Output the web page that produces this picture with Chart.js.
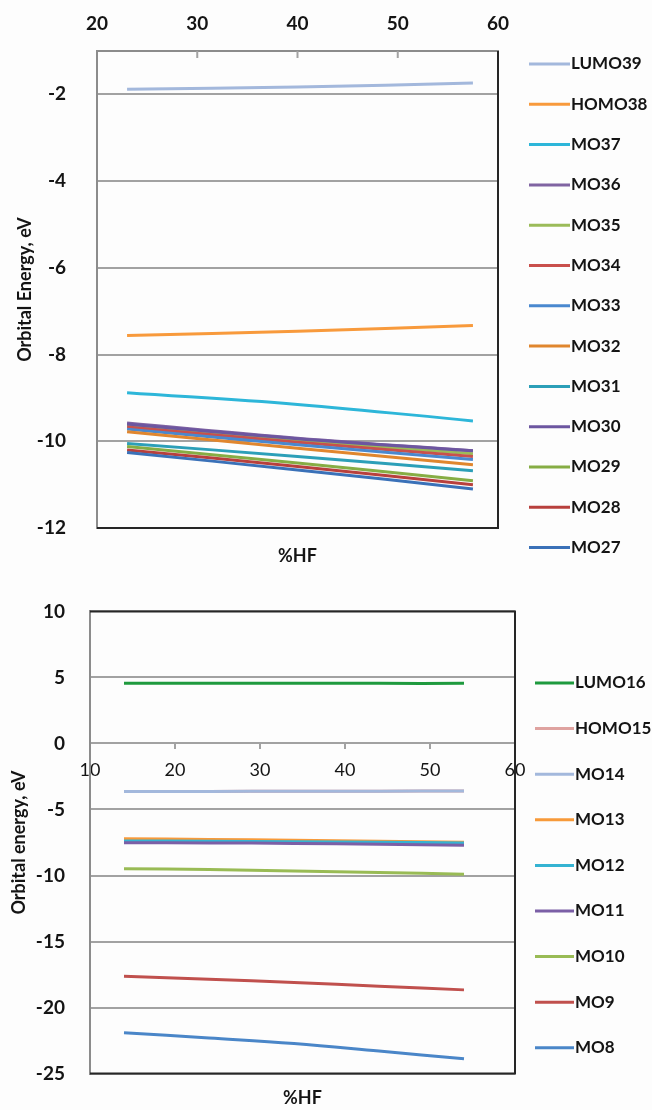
<!DOCTYPE html>
<html>
<head>
<meta charset="utf-8">
<title>Orbital energies vs %HF</title>
<script src="https://cdn.jsdelivr.net/npm/chart.js@4.4.1/dist/chart.umd.min.js"></script>
<style>
    html, body { margin: 0; padding: 0; background: #fdfdfd; }
    canvas { display: block; }
</style>
</head>
<body>
<canvas id="upper-chart" width="652" height="575"></canvas>
<canvas id="lower-chart" width="652" height="535"></canvas>
<script>
// Upper panel: orbitals 27-39 vs %HF
const upperHF = [23, 40, 57.5];
const upperLabels = ['LUMO39', 'HOMO38', 'MO37', 'MO36', 'MO35', 'MO34', 'MO33', 'MO32', 'MO31', 'MO30', 'MO29', 'MO28', 'MO27'];
const lumo39 = [-1.88, -1.83, -1.74];
const homo38 = [-7.56, -7.46, -7.33];
const mo37 = [-8.88, -9.15, -9.53];
const mo36 = [-9.58, -9.93, -10.22];
const mo35 = [-9.63, -9.98, -10.29];
const mo34 = [-9.67, -10.02, -10.35];
const mo33 = [-9.72, -10.08, -10.42];
const mo32 = [-9.78, -10.16, -10.54];
const mo31 = [-10.05, -10.35, -10.68];
const mo30 = [-9.60, -9.94, -10.22];
const mo29 = [-10.12, -10.50, -10.91];
const mo28 = [-10.20, -10.58, -11.00];
const mo27 = [-10.26, -10.66, -11.10];
const upperSeries = [lumo39, homo38, mo37, mo36, mo35, mo34, mo33, mo32, mo31, mo30, mo29, mo28, mo27];
const upperColors = ['#a3b8dc', '#f89a3c', '#2db6d9', '#8064a2', '#9bbb59', '#c9504c', '#4a88cf',
                     '#e0862e', '#2c9fb8', '#6c56a0', '#86ad44', '#b8403d', '#3a71b8'];
const upperXTicks = [20, 30, 40, 50, 60];
const upperYTicks = [-12, -10, -8, -6, -4, -2];

// Lower panel: orbitals 8-16 vs %HF
const lowerHF = [14, 24, 34, 44, 54];
const lowerLabels = ['LUMO16', 'HOMO15', 'MO14', 'MO13', 'MO12', 'MO11', 'MO10', 'MO9', 'MO8'];
const lumo16 = [4.56, 4.56, 4.56, 4.55, 4.55];
const homo15 = [-3.64, -3.63, -3.62, -3.61, -3.60];
const mo14 = [-3.64, -3.63, -3.62, -3.61, -3.60];
const mo13 = [-7.22, -7.27, -7.33, -7.40, -7.48];
const mo12 = [-7.38, -7.41, -7.44, -7.48, -7.53];
const mo11 = [-7.51, -7.53, -7.57, -7.63, -7.70];
const mo10 = [-9.48, -9.55, -9.65, -9.77, -9.90];
const mo9 = [-17.63, -17.85, -18.10, -18.38, -18.66];
const mo8 = [-21.90, -22.30, -22.72, -23.29, -23.88];
const lowerSeries = [lumo16, homo15, mo14, mo13, mo12, mo11, mo10, mo9, mo8];
const lowerColors = ['#1f9a3e', '#dfa3a0', '#a3b8dc', '#f79a3a', '#35b3d2', '#7b5fa6', '#99bb55', '#c0504d', '#4a86c8'];
const lowerXTicks = [10, 20, 30, 40, 50, 60];
const lowerYTicks = [-25, -20, -15, -10, -5, 0, 5, 10];

Chart.defaults.font.family = 'Lato, "Open Sans", sans-serif';
Chart.defaults.color = '#141414';

const GRID = '#a2a2a2';
const FRAME_DARK = '#262626';

function buildDatasets(xs, labels, series, colors) {
    // later series paint over earlier ones, like the spreadsheet did
    return series.map((ys, i) => ({
        label: labels[i],
        data: xs.map((x, j) => ({ x: x, y: ys[j] })),
        borderColor: colors[i],
        backgroundColor: colors[i],
        borderWidth: 3,
        pointRadius: 0,
        tension: 0.4,
        fill: false,
        order: -i
    }));
}

// legend column to the right of the plot
const sideLegend = {
    id: 'sideLegend',
    afterDraw(chart, args, opts) {
        const ctx = chart.ctx;
        ctx.save();
        ctx.font = `bold ${opts.fontSize}px Lato, sans-serif`;
        ctx.textBaseline = 'middle';
        ctx.fillStyle = '#141414';
        chart.data.datasets.forEach((ds, i) => {
            const y = opts.top + i * opts.step;
            ctx.strokeStyle = ds.borderColor;
            ctx.lineWidth = 3;
            ctx.beginPath();
            ctx.moveTo(opts.left, y);
            ctx.lineTo(opts.left + opts.lineLength, y);
            ctx.stroke();
            ctx.fillText(ds.label, opts.left + opts.lineLength + 1, y);
        });
        ctx.restore();
    }
};

// dark right/bottom (and optional top) edges of the plot box, plus inward tick marks
const plotFrame = {
    id: 'plotFrame',
    afterDraw(chart, args, opts) {
        const { ctx, chartArea: a } = chart;
        ctx.save();
        ctx.lineWidth = 2;
        ctx.strokeStyle = FRAME_DARK;
        ctx.beginPath();
        if (opts.darkTop) {
            ctx.moveTo(a.left, a.top);
            ctx.lineTo(a.right, a.top);
        } else {
            ctx.moveTo(a.right, a.top);
        }
        ctx.lineTo(a.right, a.bottom);
        ctx.lineTo(a.left, a.bottom);
        ctx.stroke();
        if (opts.innerTicks) {
            const xs = chart.scales.x;
            ctx.strokeStyle = GRID;
            opts.innerTicks.forEach(v => {
                const px = xs.getPixelForValue(v);
                ctx.beginPath();
                ctx.moveTo(px, a.top);
                ctx.lineTo(px, a.top + 7);
                ctx.stroke();
            });
        }
        ctx.restore();
    }
};

const tickFont = { size: 19, weight: 'bold' };
const titleFont = { size: 18, weight: 'bold' };

new Chart(document.getElementById('upper-chart'), {
    type: 'line',
    data: { datasets: buildDatasets(upperHF, upperLabels, upperSeries, upperColors) },
    plugins: [sideLegend, plotFrame],
    options: {
        responsive: false,
        animation: false,
        layout: { padding: { top: 0, right: 154, bottom: 0, left: 0 } },
        scales: {
            x: {
                type: 'linear',
                position: 'top',
                min: 20,
                max: 60,
                afterBuildTicks: s => { s.ticks = upperXTicks.map(v => ({ value: v })); },
                afterFit: s => { s.height = 51; },
                ticks: { font: tickFont, padding: 16, maxRotation: 0 },
                grid: { display: false, drawTicks: false },
                border: { color: '#8c8c8c', width: 2 }
            },
            xTitle: {
                type: 'linear',
                position: 'bottom',
                afterFit: s => { s.height = 47; },
                ticks: { display: false },
                grid: { display: false },
                border: { display: false },
                title: { display: true, text: '%HF', font: titleFont, padding: { top: 0, bottom: 8 } }
            },
            y: {
                type: 'linear',
                min: -12,
                max: -1,
                afterBuildTicks: s => { s.ticks = upperYTicks.map(v => ({ value: v })); },
                afterFit: s => { s.width = 97; },
                ticks: { font: tickFont, padding: 31 },
                grid: { color: GRID, lineWidth: 2, drawTicks: false },
                border: { color: '#8c8c8c', width: 2 },
                title: { display: true, text: 'Orbital Energy, eV', font: titleFont, padding: { top: 14, bottom: 0 } }
            }
        },
        plugins: {
            legend: { display: false },
            tooltip: { enabled: false },
            sideLegend: { left: 529, top: 64, step: 40.3, lineLength: 41, fontSize: 17 },
            plotFrame: { darkTop: false, innerTicks: [30, 40, 50] }
        }
    }
});

new Chart(document.getElementById('lower-chart'), {
    type: 'line',
    data: { datasets: buildDatasets(lowerHF, lowerLabels, lowerSeries, lowerColors) },
    plugins: [sideLegend, plotFrame],
    options: {
        responsive: false,
        animation: false,
        layout: { padding: { top: 24, right: 137, bottom: 0, left: 0 } },
        scales: {
            x: {
                type: 'linear',
                position: { y: 0 },
                min: 10,
                max: 60,
                afterBuildTicks: s => { s.ticks = lowerXTicks.map(v => ({ value: v })); },
                ticks: { font: { size: 18 }, padding: 11, maxRotation: 0 },
                grid: { drawOnChartArea: false, tickLength: 5, color: GRID, lineWidth: 2 },
                border: { color: GRID, width: 2 }
            },
            xTitle: {
                type: 'linear',
                position: 'bottom',
                afterFit: s => { s.height = 36; },
                ticks: { display: false },
                grid: { display: false },
                border: { display: false },
                title: { display: true, text: '%HF', font: titleFont, padding: { top: 0, bottom: 1 } }
            },
            y: {
                type: 'linear',
                min: -25,
                max: 10,
                afterBuildTicks: s => { s.ticks = lowerYTicks.map(v => ({ value: v })); },
                afterFit: s => { s.width = 90; },
                ticks: { font: tickFont, padding: 25 },
                grid: { color: GRID, lineWidth: 2, drawTicks: false },
                border: { color: '#8c8c8c', width: 2 },
                title: { display: true, text: 'Orbital energy, eV', font: titleFont, padding: { top: 8, bottom: 0 } }
            }
        },
        plugins: {
            legend: { display: false },
            tooltip: { enabled: false },
            sideLegend: { left: 535, top: 108, step: 45.6, lineLength: 39, fontSize: 17 },
            plotFrame: { darkTop: true }
        }
    }
});
</script>
</body>
</html>
